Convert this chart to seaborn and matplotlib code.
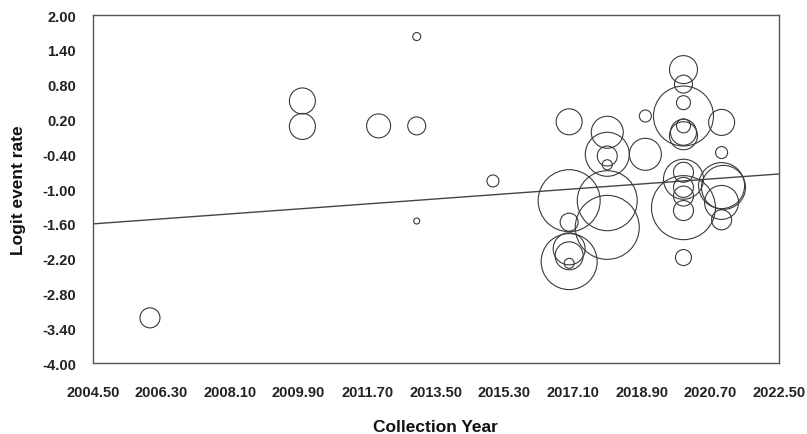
import matplotlib
matplotlib.use("Agg")
import matplotlib.pyplot as plt
import seaborn as sns
import numpy as np
import pandas as pd

# Study-level data (collection year, logit event rate, relative weight)
years = [2006.0, 2010.0, 2010.0, 2012.0, 2013.0, 2013.0, 2013.0, 2015.0,
         2017.0, 2017.0, 2017.0, 2017.0, 2017.0, 2017.0, 2017.0,
         2018.0, 2018.0, 2018.0, 2018.0, 2018.0, 2018.0,
         2019.0, 2019.0,
         2020.0, 2020.0, 2020.0, 2020.0, 2020.0, 2020.0, 2020.0, 2020.0,
         2020.0, 2020.0, 2020.0, 2020.0, 2020.0, 2020.0,
         2021.0, 2021.0, 2021.0, 2021.05, 2021.0, 2021.0]
logit = [-3.22, 0.52, 0.08, 0.09, 0.09, 1.63, -1.55, -0.86,
         0.16, -1.20, -1.57, -2.03, -2.15, -2.25, -2.28,
         -0.02, -0.40, -0.43, -0.58, -1.20, -1.66,
         -0.40, 0.26,
         1.06, 0.81, 0.49, 0.26, 0.09, -0.02, -0.08, -0.71,
         -0.83, -0.97, -1.12, -1.37, -1.32, -2.18,
         0.15, -0.37, -0.94, -0.97, -1.23, -1.53]
weight = [100, 169, 169, 144, 81, 16, 9, 36,
          169, 961, 81, 256, 196, 784, 25,
          256, 484, 100, 25, 900, 1024,
          256, 36,
          196, 81, 49, 900, 49, 169, 196, 100,
          400, 100, 100, 100, 1024, 64,
          169, 36, 529, 484, 289, 100]

# Meta-regression line coefficients
intercept_at_start = -1.60
slope = 0.0478
x_start, x_end = 2004.5, 2022.5

xticks = [2004.5 + 1.8 * i for i in range(11)]
yticks = [-4.0 + 0.6 * i for i in range(11)]

df = pd.DataFrame({"year": years, "logit": logit, "weight": weight})
line_x = np.array([x_start, x_end])
line_df = pd.DataFrame({"x": line_x, "y": intercept_at_start + slope * (line_x - x_start)})

sns.set_style("white")
plt.rcParams["font.family"] = ["Liberation Sans", "DejaVu Sans"]

fig = plt.figure(figsize=(8.07, 4.35), dpi=100)
ax = fig.add_axes([0.115, 0.163, 0.85, 0.8])

px2pt = 0.72
rmax = 32
smax = (2 * rmax * px2pt) ** 2
sns.scatterplot(data=df, x="year", y="logit", size="weight",
                sizes=(0, smax), size_norm=(0, max(weight)),
                facecolor="none", edgecolor="#3a3a3a", linewidth=0.8,
                legend=False, ax=ax, zorder=3)
sns.lineplot(data=line_df, x="x", y="y", color="#444444", linewidth=1.0, ax=ax, zorder=2)

ax.set_xlim(x_start, x_end)
ax.set_ylim(-4.0, 2.0)
ax.set_xticks(xticks)
ax.set_xticklabels([f"{t:.2f}" for t in xticks])
ax.set_yticks(yticks)
ax.set_yticklabels([f"{t:.2f}" for t in yticks])
for s in ax.spines.values():
    s.set_color("#555555")
    s.set_linewidth(1.0)
ax.tick_params(axis="both", direction="out", length=4, width=1, color="#555555",
               labelsize=10.5, pad=8)
ax.tick_params(axis="x", pad=12)
for lab in ax.get_xticklabels() + ax.get_yticklabels():
    lab.set_fontweight("bold")
    lab.set_color("#222222")
ax.set_xlabel("Collection Year", fontsize=12.5, fontweight="bold", labelpad=14, color="#111111")
ax.set_ylabel("Logit event rate", fontsize=12.5, fontweight="bold", labelpad=12, color="#111111")

fig.savefig("out.png", dpi=100)
